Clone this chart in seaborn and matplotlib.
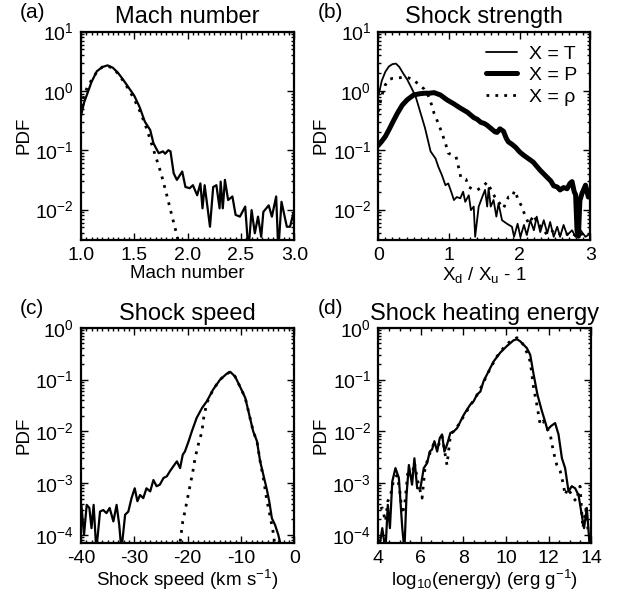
import numpy as np
import matplotlib
matplotlib.use("Agg")
import matplotlib.pyplot as plt
import seaborn as sns
from matplotlib.ticker import LogLocator, AutoMinorLocator, NullFormatter

# ---------------- data (log10 of PDF) ----------------
# (a) Mach number
mach_x = [1.00, 1.03, 1.06, 1.10, 1.15, 1.20, 1.25, 1.30, 1.35, 1.40, 1.45, 1.50, 1.55, 1.60,
          1.65, 1.68, 1.70, 1.73, 1.77, 1.79, 1.82, 1.84, 1.87, 1.90, 1.95, 1.98, 2.02, 2.05,
          2.09, 2.12, 2.14, 2.16, 2.21, 2.24, 2.27, 2.30, 2.31, 2.33, 2.35, 2.38, 2.42, 2.45,
          2.49, 2.54, 2.57, 2.60, 2.63, 2.66, 2.69, 2.71, 2.76, 2.79, 2.83, 2.85, 2.88, 2.93,
          2.96, 2.99]
mach_T_log = [-0.43, -0.20, -0.05, 0.15, 0.33, 0.40, 0.43, 0.39, 0.30, 0.18, 0.05, -0.08, -0.27, -0.52,
              -0.66, -0.88, -0.95, -1.05, -1.02, -1.06, -1.00, -1.02, -1.39, -1.50, -1.36, -1.62, -1.64, -1.59,
              -1.76, -1.56, -1.98, -1.59, -2.29, -1.62, -1.59, -1.98, -1.53, -1.98, -1.50, -1.84, -1.78, -2.09,
              -2.12, -1.95, -2.70, -2.01, -2.40, -2.12, -2.46, -2.04, -1.93, -2.12, -1.78, -2.70, -1.87, -2.29,
              -2.29, -2.07]
mach_rho_x = [1.00, 1.03, 1.06, 1.10, 1.15, 1.20, 1.25, 1.30, 1.35, 1.40, 1.45, 1.50, 1.55, 1.60,
              1.65, 1.70, 1.75, 1.80, 1.85, 1.90, 1.94]
mach_rho_log = [-0.28, -0.08, 0.06, 0.18, 0.32, 0.40, 0.42, 0.38, 0.29, 0.16, 0.02, -0.14, -0.33, -0.55,
                -0.82, -1.10, -1.38, -1.72, -2.08, -2.43, -2.75]

# (b) Shock strength
str_T_x = [0.00, 0.05, 0.10, 0.15, 0.20, 0.25, 0.30, 0.35, 0.41, 0.47, 0.53, 0.58, 0.62, 0.66, 0.69,
           0.74, 0.81, 0.85, 0.90, 0.95, 0.99, 1.04, 1.07, 1.11, 1.16, 1.20, 1.23, 1.28, 1.31, 1.35,
           1.37, 1.42, 1.47, 1.51, 1.54, 1.56, 1.59, 1.63, 1.67, 1.70, 1.75, 1.82, 1.89, 1.92, 1.97,
           2.01, 2.06, 2.10, 2.15, 2.20, 2.24, 2.29, 2.34, 2.39, 2.43, 2.48, 2.53, 2.57, 2.62, 2.67,
           2.74, 2.79, 2.86, 2.93, 3.00]
str_T_log = [-0.10, 0.17, 0.32, 0.41, 0.45, 0.46, 0.40, 0.30, 0.19, 0.05, -0.10, -0.30, -0.46, -0.62, -0.77,
             -1.02, -1.14, -1.28, -1.42, -1.59, -1.56, -1.73, -1.84, -1.79, -1.81, -1.70, -1.87, -1.76, -2.01, -1.95,
             -2.46, -1.95, -1.79, -1.67, -1.95, -1.64, -1.95, -1.84, -2.12, -1.90, -2.18, -2.24, -2.29, -2.46, -2.24,
             -2.46, -2.26, -2.43, -2.18, -2.35, -2.12, -2.38, -2.18, -2.40, -2.21, -2.46, -2.29, -2.46, -2.26, -2.43,
             -2.35, -2.46, -2.35, -2.46, -2.40]
str_P_x = [0.00, 0.05, 0.10, 0.15, 0.20, 0.27, 0.34, 0.41, 0.50, 0.58, 0.65, 0.72, 0.79, 0.88, 0.97,
           1.07, 1.16, 1.26, 1.35, 1.40, 1.45, 1.50, 1.54, 1.60, 1.65, 1.68, 1.72, 1.77, 1.81, 1.84,
           1.89, 1.94, 2.00, 2.05, 2.12, 2.19, 2.24, 2.29, 2.34, 2.39, 2.44, 2.48, 2.53, 2.57, 2.62,
           2.67, 2.71, 2.74, 2.77, 2.79, 2.81, 2.83, 2.85, 2.88, 2.93, 2.97, 3.00]
str_P_log = [-0.92, -0.85, -0.77, -0.66, -0.54, -0.38, -0.24, -0.15, -0.07, -0.05, -0.04, -0.04, -0.03, -0.07, -0.15,
             -0.22, -0.29, -0.36, -0.45, -0.48, -0.53, -0.55, -0.58, -0.64, -0.69, -0.70, -0.64, -0.68, -0.80, -0.86,
             -0.90, -0.95, -1.03, -1.08, -1.14, -1.20, -1.27, -1.34, -1.40, -1.46, -1.52, -1.60, -1.62, -1.67, -1.63,
             -1.65, -1.56, -1.53, -1.70, -1.75, -2.35, -2.45, -1.85, -1.73, -1.59, -1.79, -1.68]
str_rho_x = [0.00, 0.05, 0.10, 0.15, 0.20, 0.25, 0.30, 0.35, 0.40, 0.45, 0.50, 0.55, 0.60, 0.65, 0.70,
             0.74, 0.79, 0.85, 0.90, 0.95, 0.99, 1.05, 1.10, 1.14, 1.17, 1.24, 1.28, 1.34, 1.40, 1.47,
             1.54, 1.60, 1.65, 1.70, 1.77, 1.84, 1.89, 1.93, 1.98, 2.03, 2.08, 2.13, 2.20, 2.24, 2.32,
             2.39, 2.48, 2.55, 2.62, 2.72, 2.81, 2.90, 3.00]
str_rho_log = [-0.35, -0.08, 0.10, 0.19, 0.21, 0.21, 0.22, 0.23, 0.23, 0.21, 0.19, 0.13, 0.08, 0.03, -0.06,
               -0.18, -0.38, -0.55, -0.71, -0.88, -1.05, -1.08, -1.11, -1.31, -1.47, -1.49, -1.62, -1.66, -1.67, -1.62,
               -1.54, -1.68, -1.79, -1.87, -1.98, -1.79, -1.79, -1.68, -1.84, -1.95, -2.12, -2.24, -2.09, -2.21, -2.32,
               -2.43, -2.35, -2.40, -2.46, -2.38, -2.46, -2.40, -2.43]

# (c) Shock speed
spd_x = [-39.9, -39.4, -38.9, -38.4, -38.0, -37.6, -37.1, -36.4, -35.8, -35.2, -34.6, -33.9, -33.3, -32.8,
         -32.4, -31.7, -31.1, -30.5, -29.9, -29.4, -28.9, -28.3, -27.7, -27.0, -26.4, -25.8, -25.2, -24.5,
         -23.9, -23.3, -22.7, -22.0, -21.4, -20.9, -20.5, -19.8, -19.2, -18.3, -17.3, -16.4, -15.2, -13.9,
         -12.7, -12.0, -11.1, -10.2, -9.2, -8.3, -7.7, -7.0, -6.4, -5.8, -5.2, -4.7, -4.2, -3.6, -3.0, -2.3]
spd_T_log = [-3.42, -4.00, -3.42, -3.48, -3.87, -3.42, -4.30, -3.55, -3.52, -3.58, -3.48, -3.74, -3.42, -3.81,
             -4.30, -3.61, -3.55, -3.29, -3.10, -3.35, -3.23, -3.29, -3.10, -3.16, -2.94, -3.06, -3.03, -2.90,
             -2.87, -2.77, -2.68, -2.58, -2.71, -2.45, -2.39, -2.19, -2.00, -1.74, -1.55, -1.42, -1.19, -1.00,
             -0.89, -0.85, -0.94, -1.13, -1.35, -1.74, -2.00, -2.19, -2.58, -2.84, -3.10, -3.35, -3.68, -3.81,
             -4.00, -4.30]
spd_rho_x = [-21.6, -20.9, -20.5, -20.0, -19.5, -19.0, -18.6, -18.0, -17.3, -17.0, -16.4, -15.2, -13.9,
             -12.7, -12.0, -11.1, -10.2, -9.2, -8.3, -7.7, -7.0, -6.4, -5.8, -5.2, -4.6, -4.1, -3.8, -3.6]
spd_rho_log = [-4.30, -3.74, -3.55, -3.29, -3.03, -2.77, -2.52, -2.26, -2.00, -1.75, -1.45, -1.19, -1.00,
               -0.89, -0.85, -0.94, -1.13, -1.35, -1.74, -2.00, -2.19, -2.58, -2.90, -3.30, -3.61, -3.87, -4.05,
               -4.40]

# (d) Shock heating energy
en_T_x = [4.03, 4.19, 4.34, 4.45, 4.55, 4.66, 4.81, 4.97, 5.13, 5.23, 5.33, 5.44, 5.59, 5.70, 5.83,
          5.98, 6.14, 6.30, 6.42, 6.53, 6.64, 6.77, 6.89, 7.00, 7.11, 7.23, 7.39, 7.55, 7.70, 7.86,
          8.02, 8.17, 8.33, 8.48, 8.64, 8.80, 8.95, 9.11, 9.27, 9.42, 9.73, 10.05, 10.36, 10.52, 10.67,
          10.98, 11.14, 11.30, 11.48, 11.69, 11.84, 11.95, 12.11, 12.31, 12.47, 12.63, 12.78, 12.94, 13.09,
          13.25, 13.41, 13.56, 13.67, 13.80, 13.95]
en_T_log = [-4.30, -3.87, -4.30, -3.42, -3.87, -2.97, -2.71, -2.90, -3.87, -4.30, -3.23, -2.65, -3.03, -2.52, -3.10,
            -3.10, -2.71, -2.61, -2.39, -2.35, -2.19, -2.39, -2.13, -2.06, -2.39, -2.26, -2.03, -2.00, -1.94, -1.81,
            -1.68, -1.58, -1.48, -1.42, -1.29, -1.23, -1.03, -0.90, -0.77, -0.65, -0.48, -0.35, -0.24, -0.22, -0.26,
            -0.39, -0.52, -0.90, -1.29, -1.61, -1.81, -1.97, -1.90, -1.84, -2.06, -2.52, -2.71, -3.16, -3.06,
            -3.10, -3.23, -3.61, -3.87, -3.48, -4.30]
en_rho_x = [4.10, 4.19, 4.34, 4.45, 4.58, 4.72, 4.88, 5.00, 5.13, 5.25, 5.40, 5.55, 5.70, 5.85, 6.06,
            6.20, 6.40, 6.60, 6.80, 7.00, 7.23, 7.40, 7.60, 7.86, 8.02, 8.33, 8.64, 8.95, 9.27, 9.58,
            9.90, 10.20, 10.52, 10.70, 10.90, 11.14, 11.30, 11.45, 11.61, 11.75, 11.92, 12.08, 12.23, 12.39,
            12.55, 12.70, 12.78, 12.90, 13.05, 13.17, 13.30, 13.48, 13.61, 13.75, 13.88]
en_rho_log = [-3.50, -3.48, -3.74, -3.35, -3.23, -2.95, -2.85, -3.10, -3.60, -3.40, -2.75, -2.95, -2.60, -2.95, -3.29,
              -2.70, -2.45, -2.25, -2.30, -2.10, -2.65, -2.05, -1.98, -1.82, -1.70, -1.50, -1.30, -1.05, -0.78, -0.55,
              -0.38, -0.26, -0.19, -0.25, -0.39, -0.65, -1.16, -1.48, -1.87, -1.80, -1.94, -2.06, -2.39, -2.65,
              -2.77, -3.03, -3.23, -3.10, -3.20, -3.29, -3.35, -3.06, -3.87, -3.50, -4.00]

# ---------------- styling ----------------
sns.set_style("ticks")
plt.rcParams['font.family'] = ['Liberation Sans', 'DejaVu Sans']
plt.rcParams['mathtext.fontset'] = 'custom'
plt.rcParams['mathtext.rm'] = 'Liberation Sans'
plt.rcParams['mathtext.it'] = 'Liberation Sans:italic'
plt.rcParams['mathtext.default'] = 'regular'
plt.rcParams['axes.unicode_minus'] = False
for k in ['text.color', 'axes.labelcolor', 'xtick.color', 'ytick.color', 'axes.edgecolor',
          'xtick.labelcolor', 'ytick.labelcolor']:
    plt.rcParams[k] = 'black'

TICK_FS = 14
LAB_FS = 13.5
TITLE_FS = 17
DOT = (0, (1, 2.2))

fig = plt.figure(figsize=(6.17, 5.95), dpi=100)
fig.patch.set_facecolor('white')

axA = fig.add_axes([0.131, 0.597, 0.346, 0.350])
axB = fig.add_axes([0.613, 0.597, 0.344, 0.350])
axC = fig.add_axes([0.131, 0.088, 0.346, 0.361])
axD = fig.add_axes([0.613, 0.088, 0.345, 0.361])


def pdf(logs):
    return np.power(10.0, np.asarray(logs, dtype=float))


def style(ax, title, xlabel, xlim, ylim, xticks, xminor):
    ax.set_yscale('log')
    ax.set_xlim(*xlim)
    ax.set_ylim(*ylim)
    ax.set_xticks(xticks)
    ax.xaxis.set_minor_locator(AutoMinorLocator(xminor))
    ax.yaxis.set_major_locator(LogLocator(base=10, numticks=10))
    ax.yaxis.set_minor_locator(LogLocator(base=10, subs=np.arange(2, 10), numticks=20))
    ax.yaxis.set_minor_formatter(NullFormatter())
    ax.tick_params(which='both', direction='in', top=True, right=True, labelsize=TICK_FS,
                   width=1.0, color='black', labelcolor='black')
    ax.tick_params(which='major', length=5, pad=5)
    ax.tick_params(which='minor', length=2.5)
    for s in ax.spines.values():
        s.set_linewidth(1.6)
        s.set_color('black')
    ax.set_title(title, fontsize=TITLE_FS, pad=6, color='black')
    ax.set_xlabel(xlabel, fontsize=LAB_FS, labelpad=1, color='black')
    ax.set_ylabel('PDF', fontsize=LAB_FS, labelpad=2, color='black')


# (a)
sns.lineplot(x=mach_x, y=pdf(mach_T_log), ax=axA, color='black', lw=1.6, estimator=None, sort=False)
sns.lineplot(x=mach_rho_x, y=pdf(mach_rho_log), ax=axA, color='black', lw=2.0, linestyle=DOT,
             estimator=None, sort=False)
style(axA, 'Mach number', 'Mach number', (1.0, 3.0), (10**-2.51, 10), [1.0, 1.5, 2.0, 2.5, 3.0], 10)
axA.set_xticklabels(['1.0', '1.5', '2.0', '2.5', '3.0'])

# (b)
sns.lineplot(x=str_T_x, y=pdf(str_T_log), ax=axB, color='black', lw=1.3, estimator=None, sort=False,
             label='X = T')
sns.lineplot(x=str_P_x, y=pdf(str_P_log), ax=axB, color='black', lw=3.6, estimator=None, sort=False,
             label='X = P')
sns.lineplot(x=str_rho_x, y=pdf(str_rho_log), ax=axB, color='black', lw=2.0, linestyle=DOT,
             estimator=None, sort=False, label='X = ρ')
style(axB, 'Shock strength', 'X$_\\mathrm{d}$ / X$_\\mathrm{u}$ - 1', (0, 3), (10**-2.51, 10),
      [0, 1, 2, 3], 10)
leg = axB.legend(loc='upper right', frameon=False, fontsize=14, handlelength=1.6,
                 handletextpad=0.6, labelspacing=0.2, borderaxespad=0.3)
for t in leg.get_texts():
    t.set_color('black')

# (c)
sns.lineplot(x=spd_x, y=pdf(spd_T_log), ax=axC, color='black', lw=1.6, estimator=None, sort=False)
sns.lineplot(x=spd_rho_x, y=pdf(spd_rho_log), ax=axC, color='black', lw=2.0, linestyle=DOT,
             estimator=None, sort=False)
style(axC, 'Shock speed', 'Shock speed (km s$^{-1}$)', (-40, 0), (10**-4.15, 1),
      [-40, -30, -20, -10, 0], 10)

# (d)
sns.lineplot(x=en_T_x, y=pdf(en_T_log), ax=axD, color='black', lw=1.6, estimator=None, sort=False)
sns.lineplot(x=en_rho_x, y=pdf(en_rho_log), ax=axD, color='black', lw=2.0, linestyle=DOT,
             estimator=None, sort=False)
style(axD, 'Shock heating energy', 'log$_{10}$(energy) (erg g$^{-1}$)', (4, 14), (10**-4.15, 1),
      [4, 6, 8, 10, 12, 14], 4)

# panel letters
for lbl, (px, py) in zip(['(a)', '(b)', '(c)', '(d)'],
                         [(20, 12), (318, 12), (20, 308), (318, 308)]):
    fig.text(px / 617, 1 - py / 595, lbl, fontsize=15, va='center', ha='left', color='black')

fig.savefig('out.png', dpi=100, facecolor='white')
